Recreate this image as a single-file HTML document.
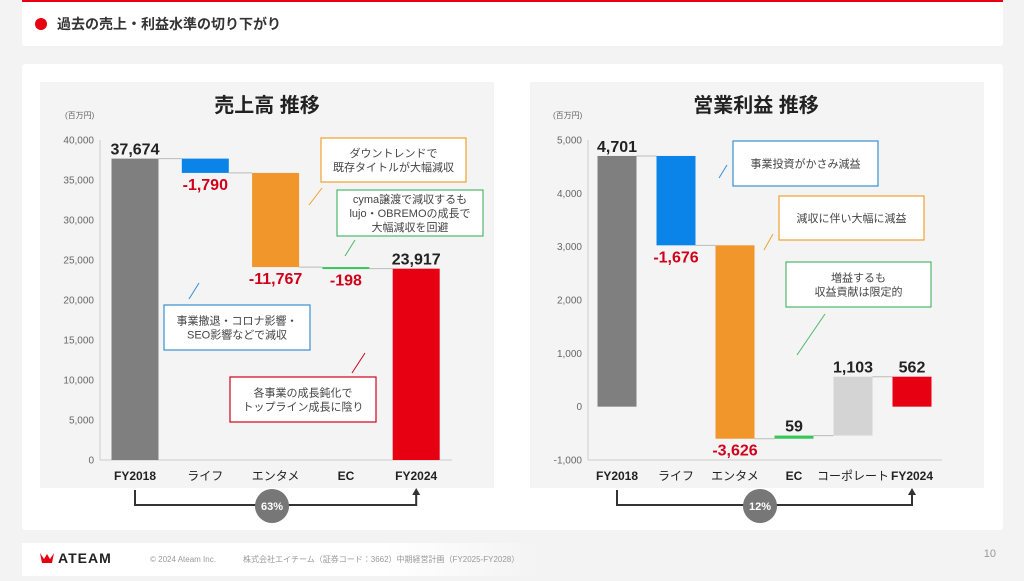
<!DOCTYPE html>
<html><head><meta charset="utf-8">
<style>
body{margin:0;width:1024px;height:576px;background:#f3f3f3;overflow:hidden;font-family:"Liberation Sans","Noto Sans CJK JP",sans-serif}
svg text{font-family:"Liberation Sans","Noto Sans CJK JP",sans-serif}
</style></head><body>
<svg id="s" width="1024" height="576" xmlns="http://www.w3.org/2000/svg">
<defs><linearGradient id="fg" x1="0" x2="1"><stop offset="0" stop-color="#fff"/><stop offset="0.7" stop-color="#fff"/><stop offset="1" stop-color="#f3f3f3"/></linearGradient></defs>
<rect x="22" y="0" width="981" height="46" fill="#fff" rx="3"/>
<rect x="22" y="0" width="981" height="2" fill="#e60012"/>
<circle cx="41" cy="24" r="6" fill="#e60012"/>
<text x="57" y="29" font-size="14" font-weight="bold" fill="#333">過去の売上・利益水準の切り下がり</text>
<rect x="22" y="64" width="981" height="466" fill="#fff" rx="3"/>
<rect x="40" y="82" width="454" height="406" fill="#f4f4f4"/>
<rect x="530" y="82" width="454" height="406" fill="#f4f4f4"/>
<g id="L"></g><g id="R"></g>
<rect x="22" y="543" width="520" height="33" fill="url(#fg)"/>
<path d="M40 553 l4 6 l3 -5 l3 5 l4 -6 l-2 10 h-10z" fill="#e60012"/>
<text x="58" y="563" font-size="14" font-weight="bold" fill="#222" letter-spacing="1">ATEAM</text>
<text x="150" y="562" font-size="8" fill="#999">© 2024 Ateam Inc.</text>
<text x="243" y="562" font-size="8" fill="#999">株式会社エイチーム（証券コード：3662）中期経営計画（FY2025-FY2028）</text>
<text x="996" y="557" font-size="11" fill="#999" text-anchor="end">10</text>
</svg>
<script>
const salesCats=["FY2018","ライフ","エンタメ","EC","FY2024"];
const salesVals=[37674,-1790,-11767,-198,23917];
const salesLabels=["37,674","-1,790","-11,767","-198","23,917"];
const salesTicks=[0,5000,10000,15000,20000,25000,30000,35000,40000];
const profitCats=["FY2018","ライフ","エンタメ","EC","コーポレート","FY2024"];
const profitVals=[4701,-1676,-3626,59,1103,562];
const profitLabels=["4,701","-1,676","-3,626","59","1,103","562"];
const profitTicks=[-1000,0,1000,2000,3000,4000,5000];
const NS="http://www.w3.org/2000/svg";
function mk(g,t,a,txt){const e=document.createElementNS(NS,t);for(const k in a)e.setAttribute(k,a[k]);if(txt!==undefined)e.textContent=txt;g.appendChild(e);return e;}
function chart(g,o){
 const y=v=>o.y0-(v-o.min)/(o.max-o.min)*(o.y0-o.y1);
 const x=i=>o.cx0+i*o.step;
 mk(g,"text",{x:o.tx,y:112,"font-size":20,"font-weight":"bold",fill:"#222","text-anchor":"middle",},o.title);
 mk(g,"text",{x:o.ax-35,y:118,"font-size":8,fill:"#666",},"(百万円)");
 o.ticks.forEach(t=>{const e=mk(g,"text",{x:o.ax-6,y:y(t)+3.5,"font-size":10,fill:"#666","text-anchor":"end"},t.toLocaleString("en-US"));
 
 });
 mk(g,"line",{x1:o.ax,y1:y(o.max),x2:o.ax,y2:o.y0,stroke:"#ccc"});
 mk(g,"line",{x1:o.ax,y1:o.y0,x2:o.axEnd,y2:o.y0,stroke:"#ccc"});
 let cum=0;const n=o.vals.length;
 o.vals.forEach((v,i)=>{
  let a,b,col;
  if(i==0){a=0;b=v;cum=v;col="#7f7f7f";}
  else if(i==n-1){a=0;b=v;col="#e60012";}
  else{a=cum;b=cum+v;cum=b;col=o.cols[i];}
  const top=y(Math.max(a,b)),bot=y(Math.min(a,b));
  const r=mk(g,"rect",{x:x(i)-o.bw/2,y:top,width:o.bw,height:Math.max(bot-top,2),fill:col});
  
  
  if(i<n-1){const lv=(i==0)?v:cum;mk(g,"line",{x1:x(i)+o.bw/2,y1:y(lv),x2:x(i+1)-o.bw/2,y2:y(lv),stroke:"#bbb"});}
  const neg=v<0&&i>0&&i<n-1;
  const ly=neg?bot+17:top-4;
  const l=mk(g,"text",{x:x(i),y:ly,"font-size":16,"font-weight":"bold",fill:neg?"#d0021b":"#222","text-anchor":"middle"},o.labels[i]);
  
  
  const c=mk(g,"text",{x:x(i),y:480,"font-size":12,"font-weight":(/FY|EC/.test(o.cats[i]))?"bold":"normal",fill:"#222","text-anchor":"middle"},o.cats[i]);
  
  
 });
 const x0=x(0),xn=x(n-1);
 mk(g,"path",{d:`M${x0} 490 V505 H${xn} V492`,stroke:"#333","stroke-width":2,fill:"none"});
 mk(g,"path",{d:`M${xn-4} 495 L${xn} 488 L${xn+4} 495Z`,fill:"#333"});
 mk(g,"circle",{cx:o.pc,cy:506,r:17,fill:"#777",});
 mk(g,"text",{x:o.pc,y:510,"font-size":11,"font-weight":"bold",fill:"#fff","text-anchor":"middle"},o.pct);
}
function note(g,x,y,w,h,col,lines,lx1,ly1,lx2,ly2){
 mk(g,"line",{x1:lx1,y1:ly1,x2:lx2,y2:ly2,stroke:col});
 const r=mk(g,"rect",{x:x,y:y,width:w,height:h,fill:"#fff",stroke:col,"stroke-width":1.2});
 
 
 const lh=14,sy=y+h/2-(lines.length-1)*lh/2+4;
 lines.forEach((t,k)=>mk(g,"text",{x:x+w/2,y:sy+k*lh,"font-size":11,fill:"#444","text-anchor":"middle"},t));
}
const L=document.getElementById("L"),R=document.getElementById("R");
chart(L,{title:"売上高 推移",tx:267,ax:100,axEnd:452,y0:460,y1:140,min:0,max:40000,ticks:salesTicks,vals:salesVals,labels:salesLabels,cats:salesCats,cx0:135,step:70.3,bw:47,cols:["","#0a84e8","#f0962a","#34c759",""],pc:272,pct:"63%"});
chart(R,{title:"営業利益 推移",tx:756,ax:588,axEnd:942,y0:460,y1:140,min:-1000,max:5000,ticks:profitTicks,vals:profitVals,labels:profitLabels,cats:profitCats,cx0:617,step:59,bw:39,cols:["","#0a84e8","#f0962a","#34c759","#d4d4d4",""],pc:760,pct:"12%"});
note(L,321,138,145,44,"#f0a030",["ダウントレンドで","既存タイトルが大幅減収"],322,188,309,205);
note(L,337,190,146,46,"#4cb86a",["cyma譲渡で減収するも","lujo・OBREMOの成長で","大幅減収を回避"],355,240,345,256);
note(L,164,305,146,45,"#3a8fd0",["事業撤退・コロナ影響・","SEO影響などで減収"],199,283,189,299);
note(L,230,377,146,45,"#d0021b",["各事業の成長鈍化で","トップライン成長に陰り"],365,353,352,373);
note(R,733,141,145,45,"#3a8fd0",["事業投資がかさみ減益"],727,165,719,178);
note(R,779,196,145,44,"#f0a030",["減収に伴い大幅に減益"],773,234,764,250);
note(R,786,262,145,45,"#4cb86a",["増益するも","収益貢献は限定的"],825,314,797,355);
</script>
</body></html>
